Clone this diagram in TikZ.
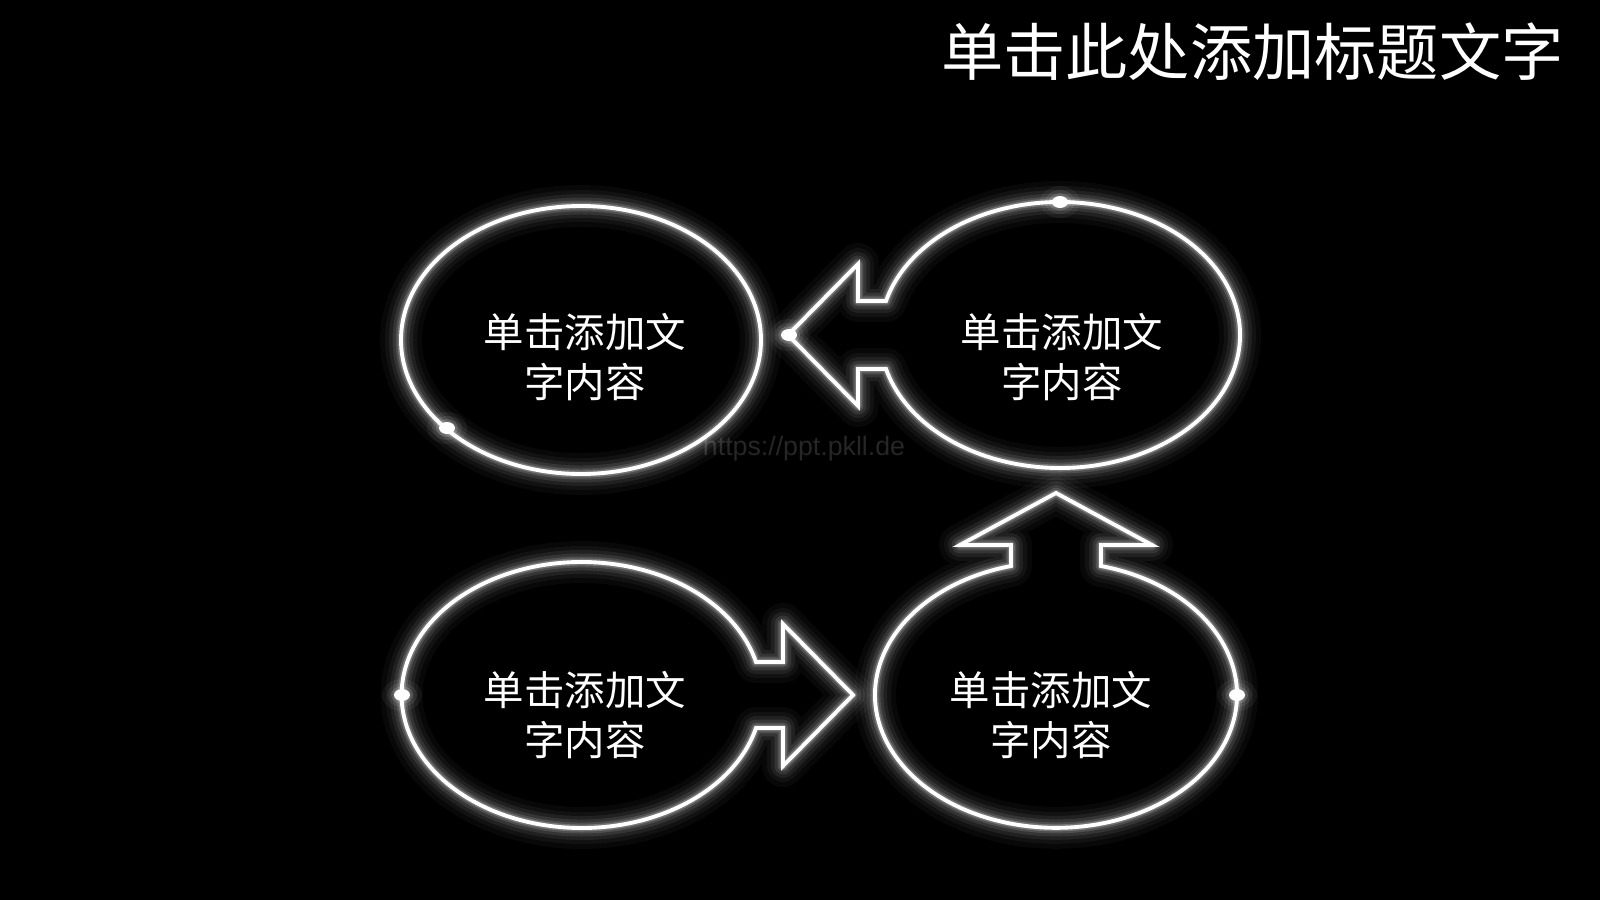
\documentclass[tikz,border=0pt]{standalone}
\usepackage{fontspec}
\newfontfamily\cjk{Noto Sans CJK SC}
\setsansfont{Liberation Sans}
\newcommand\glowshape[1]{%
  \foreach \w/\o in {42/0.03,32/0.045,24/0.065,17/0.09,11/0.13,7/0.22}{%
    \draw[white,opacity=\o,line width=\w*0.2835pt,line join=round] #1;}%
  \draw[white,line width=1.1pt,line join=miter] #1;}
\newcommand\glowdot[1]{%
  \foreach \r/\o in {20/0.05,15/0.08,11/0.14}{%
    \fill[white,opacity=\o] #1 ellipse[x radius=\r, y radius=\r*0.8];}%
  \fill[white] #1 ellipse[x radius=8, y radius=6];}
\tikzset{
  body/.style={text=white,align=center,font=\cjk\fontsize{11.5}{14.2}\selectfont},
  title/.style={text=white,anchor=east,font=\cjk\fontsize{17.7}{20}\selectfont}
}
\begin{document}
\begin{tikzpicture}[x=0.01cm,y=-0.01cm]
\fill[black] (0,0) rectangle (1600,900);
\useasboundingbox (0,0) rectangle (1600,900);
% watermark
\node[text=white!15!black,font=\sffamily\fontsize{7.6}{8}\selectfont] (wm) at (804,449) {https://ppt.pkll.de};
% top-left ellipse
\glowshape{(581,340) ellipse[x radius=180, y radius=134]}
% top-right with left arrow
\glowshape{(886,301) arc[start angle=194.81, end angle=525.19, x radius=180, y radius=133] -- (858,369) -- (858,406) -- (788,335) -- (858,264) -- (858,301) -- cycle}
% bottom-left with right arrow
\glowshape{(756,728) arc[start angle=14.37, end angle=345.63, x radius=180, y radius=133] -- (783,662) -- (783,624) -- (853,695) -- (783,766) -- (783,728) -- cycle}
% bottom-right with up arrow
\glowshape{(1101,566) arc[start angle=284.4, end angle=615.6, x radius=181, y radius=133] -- (1011,545) -- (960,545) -- (1056,493) -- (1152,545) -- (1101,545) -- cycle}
% dots
\glowdot{(447,428)}
\glowdot{(789,335)}
\glowdot{(1060,202)}
\glowdot{(402,695)}
\glowdot{(1237,695)}
% texts
\node[body] (t1) at (585,357) {单击添加文\\字内容};
\node[body] (t2) at (1062,357) {单击添加文\\字内容};
\node[body] (t3) at (585,715) {单击添加文\\字内容};
\node[body] (t4) at (1051,715) {单击添加文\\字内容};
\node[title] (ttl) at (1576,52) {单击此处添加标题文字};
\end{tikzpicture}
\end{document}
